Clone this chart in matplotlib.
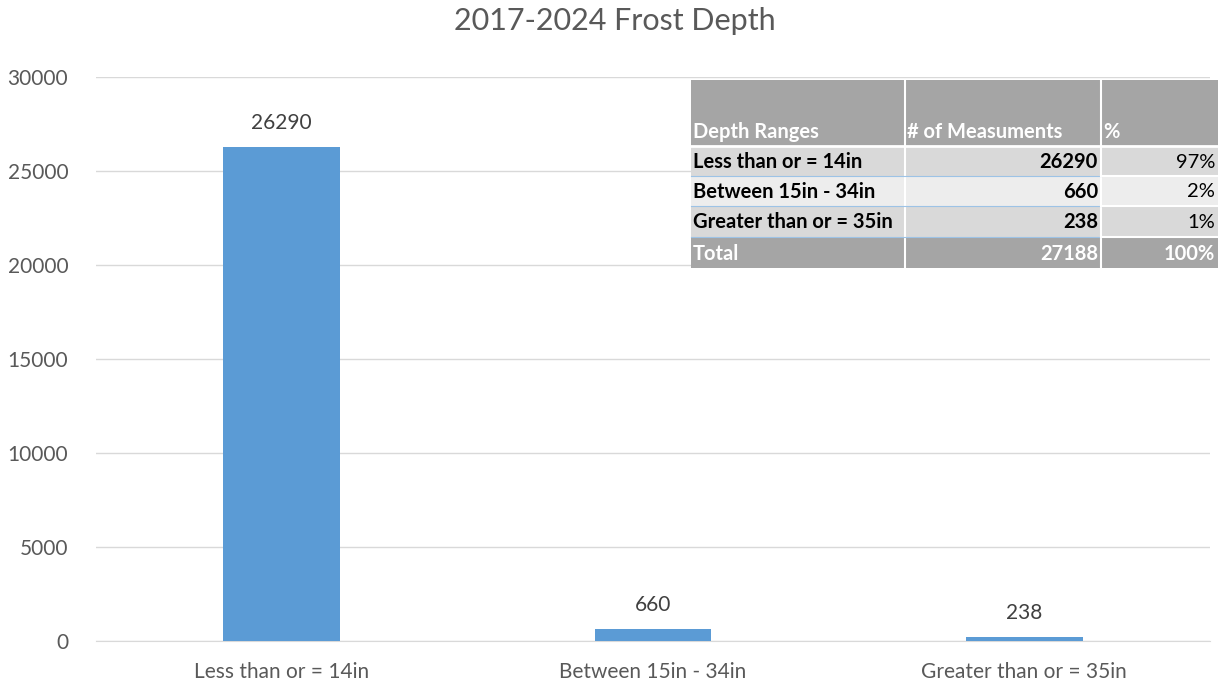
import matplotlib
matplotlib.use("Agg")
import matplotlib.pyplot as plt
from matplotlib.patches import Rectangle
from matplotlib.lines import Line2D

categories = ["Less than or = 14in", "Between 15in - 34in", "Greater than or = 35in"]
counts = [26290, 660, 238]
percents = ["97%", "2%", "1%"]
total_count = 27188
total_pct = "100%"
table_headers = ["Depth Ranges", "# of Measuments", "%"]
yticks = [0, 5000, 10000, 15000, 20000, 25000, 30000]

plt.rcParams['font.family'] = ['Lato', 'DejaVu Sans']

W, H = 1220, 690
fig = plt.figure(figsize=(W / 100, H / 100), dpi=100)
ax = fig.add_axes([96 / W, 1 - 641 / H, (1210 - 96) / W, (641 - 77) / H])

x = range(len(categories))
ax.bar(x, counts, width=0.315, color="#5B9BD5", zorder=3)
for xi, v in zip(x, counts):
    ax.annotate(str(v), (xi, v), xytext=(0, 10), textcoords="offset points",
                ha="center", va="bottom", fontsize=15, color="#404040")

ax.set_xlim(-0.5, 2.5)
ax.set_ylim(0, 30000)
ax.set_yticks(yticks)
ax.set_yticklabels([str(t) for t in yticks], fontsize=15, color="#595959")
ax.set_xticks(list(x))
ax.set_xticklabels(categories, fontsize=15, color="#595959")
ax.tick_params(axis="both", length=0)
ax.tick_params(axis="x", pad=15)
ax.tick_params(axis="y", pad=20)
ax.grid(axis="y", color="#D9D9D9", linewidth=1, zorder=0)
for s in ["top", "right", "left"]:
    ax.spines[s].set_visible(False)
ax.spines["bottom"].set_color("#D9D9D9")

fig.text(615 / W, 1 - 21 / H, "2017-2024 Frost Depth", ha="center", va="center",
         fontsize=22, color="#595959")

# Table overlay (pixel coordinates converted to figure fractions)
def px(xp, yp):
    return xp / W, 1 - yp / H

col_edges = [691, 905, 1101, 1218]
row_edges = [80, 146, 176, 206, 237, 268]
row_fills = ["#A5A5A5", "#D9D9D9", "#EDEDED", "#D9D9D9", "#A5A5A5"]

rows = [table_headers]
for c, n, p in zip(categories, counts, percents):
    rows.append([c, str(n), p])
rows.append(["Total", str(total_count), total_pct])

for r in range(5):
    y0, y1 = row_edges[r], row_edges[r + 1]
    for c in range(3):
        x0, x1 = col_edges[c], col_edges[c + 1]
        fx, fy = px(x0, y1)
        fig.add_artist(Rectangle((fx, fy), (x1 - x0) / W, (y1 - y0) / H,
                                 facecolor=row_fills[r], edgecolor="none",
                                 transform=fig.transFigure, zorder=5))
        txt = rows[r][c]
        is_white = r in (0, 4)
        color = "white" if is_white else "black"
        if r == 0:
            ty = y1 - 14
        else:
            ty = (y0 + y1) / 2 + 1
        if c == 0 or r == 0:
            tx = x0 + 2
            ha = "left"
        else:
            tx = x1 - 3
            ha = "right"
        weight = "bold"
        if r in (1, 2, 3) and c == 2:
            weight = "normal"
        fig.text(tx / W, 1 - ty / H, txt, ha=ha, va="center", fontsize=14.5,
                 color=color, weight=weight, zorder=7)

# white column separators
for xe in col_edges[1:-1]:
    fx0, fy0 = px(xe, row_edges[0])
    fx1, fy1 = px(xe, row_edges[-1])
    fig.add_artist(Line2D([fx0, fx1], [fy0, fy1], color="white", linewidth=1.5,
                          transform=fig.transFigure, zorder=6))
# white line under header
fx0, fy = px(col_edges[0], row_edges[1])
fx1, _ = px(col_edges[-1], row_edges[1])
fig.add_artist(Line2D([fx0, fx1], [fy, fy], color="white", linewidth=2,
                      transform=fig.transFigure, zorder=6))
# light blue row separators
for ye in row_edges[2:5]:
    fx0, fy = px(col_edges[0], ye)
    fx1, _ = px(col_edges[2], ye)
    fig.add_artist(Line2D([fx0, fx1], [fy, fy], color="#9DC3E6", linewidth=0.8,
                          transform=fig.transFigure, zorder=6))
    fx2, _ = px(col_edges[2], ye)
    fx3, _ = px(col_edges[3], ye)
    fig.add_artist(Line2D([fx2, fx3], [fy, fy], color="white", linewidth=1.5,
                          transform=fig.transFigure, zorder=6))

fig.savefig("out.png", dpi=100, facecolor="white")
